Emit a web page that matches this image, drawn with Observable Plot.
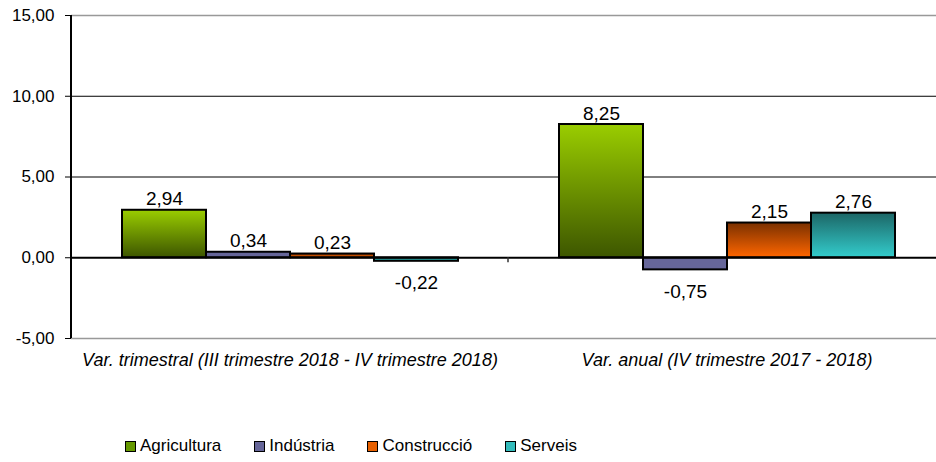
<!DOCTYPE html>
<html>
<head>
<meta charset="utf-8">
<script src="https://cdn.jsdelivr.net/npm/d3@7"></script>
<script src="https://cdn.jsdelivr.net/npm/@observablehq/plot@0.6"></script>
<style>
  html, body { margin: 0; padding: 0; background: #fff; }
  #wrap { position: relative; width: 936px; height: 462px; overflow: hidden; font-family: 'Liberation Sans', Arial, sans-serif; }
  #legend { position: absolute; top: 436px; left: 125px; display: flex; gap: 33px; font-size: 17px; color: #000; }
  #legend .item { display: flex; align-items: center; gap: 4px; }
  #legend .sw { width: 9px; height: 9px; border: 1.5px solid #000; }
</style>
</head>
<body>
<div id="wrap"><div id="chart"></div><div id="legend"></div></div>
<script>
const groups = ["Var. trimestral (III trimestre 2018 - IV trimestre 2018)", "Var. anual (IV trimestre 2017 - 2018)"];
const sectors = ["Agricultura", "Indústria", "Construcció", "Serveis"];
const trimestral = [2.94, 0.34, 0.23, -0.22];
const anual = [8.25, -0.75, 2.15, 2.76];
const yTicks = [-5, 0, 5, 10, 15];

const gradients = [
  {id: "gAgr", top: "#9acd00", bottom: "#3d5600"},
  {id: "gInd", top: "#666699", bottom: "#666699"},
  {id: "gCon", top: "#7a3000", bottom: "#ff6600"},
  {id: "gSer", top: "#1c6666", bottom: "#33cccc"}
];
const legendColors = ["#669900", "#666699", "#e86000", "#33bbbb"];

const data = [];
sectors.forEach((s, i) => {
  data.push({group: groups[0], sector: s, value: trimestral[i]});
  data.push({group: groups[1], sector: s, value: anual[i]});
});
const fmt = v => v.toFixed(2).replace(".", ",");

const barMarks = sectors.map((s, i) => Plot.barY(data.filter(d => d.sector === s), {
  fx: "group", x: "sector", y: "value",
  fill: `url(#${gradients[i].id})`, stroke: "#000", strokeWidth: 2
}));

const marginLeft = 71;
const chart = Plot.plot({
  width: 936,
  height: 380,
  marginTop: 15,
  marginBottom: 42,
  marginLeft,
  marginRight: -9,
  style: {fontFamily: "'Liberation Sans', Arial, sans-serif", fontSize: "17px", color: "#000", background: "transparent", overflow: "hidden"},
  fx: {domain: groups, padding: 0, axis: null},
  x: {domain: sectors, paddingInner: 0, paddingOuter: 0.59, axis: null},
  y: {domain: [-5, 15], ticks: yTicks, tickFormat: fmt, tickSize: 6, tickPadding: 11, line: false, label: null},
  marks: [
    Plot.ruleY([5, 10], {stroke: "#000", strokeWidth: 1}),
    Plot.ruleY([15, -5], {stroke: "#999", strokeWidth: 1.5}),
    ...barMarks,
    Plot.ruleY([0], {stroke: "#000", strokeWidth: 2}),
    Plot.text(data.filter(d => d.value >= 0), {
      fx: "group", x: "sector", y: "value", text: d => fmt(d.value),
      dy: -11, lineAnchor: "middle", fontSize: 19, fill: "#000"
    }),
    Plot.text(data.filter(d => d.value < 0), {
      fx: "group", x: "sector", y: "value", text: d => fmt(d.value),
      dy: 22, lineAnchor: "middle", fontSize: 19, fill: "#000"
    }),
    Plot.text(groups, {
      fx: d => d, text: d => d, frameAnchor: "bottom", lineAnchor: "middle",
      dy: 22, fontStyle: "italic", fontSize: 18, fill: "#000"
    })
  ]
});

const svgNode = chart.tagName.toLowerCase() === "svg" ? chart : chart.querySelector("svg");
const svg = d3.select(svgNode);
const defs = svg.insert("defs", ":first-child");
gradients.forEach(g => {
  const lg = defs.append("linearGradient").attr("id", g.id).attr("x1", 0).attr("y1", 0).attr("x2", 0).attr("y2", 1);
  lg.append("stop").attr("offset", "0%").attr("stop-color", g.top);
  lg.append("stop").attr("offset", "100%").attr("stop-color", g.bottom);
});
// y axis line and the small category separator tick, placed with the chart's own scales
const yS = chart.scale("y");
const fxS = chart.scale("fx");
svg.append("line")
  .attr("x1", marginLeft).attr("x2", marginLeft)
  .attr("y1", yS.apply(yTicks[yTicks.length - 1])).attr("y2", yS.apply(yTicks[0]))
  .attr("stroke", "#000").attr("stroke-width", 2);
const sepX = fxS.apply(groups[1]);
svg.append("line")
  .attr("x1", sepX).attr("x2", sepX)
  .attr("y1", yS.apply(0)).attr("y2", yS.apply(0) + 5)
  .attr("stroke", "#333").attr("stroke-width", 1.5);
document.getElementById("chart").appendChild(chart);

const legend = d3.select("#legend");
sectors.forEach((s, i) => {
  const it = legend.append("div").attr("class", "item");
  it.append("div").attr("class", "sw").style("background", legendColors[i]);
  it.append("span").text(s);
});
</script>
</body>
</html>
